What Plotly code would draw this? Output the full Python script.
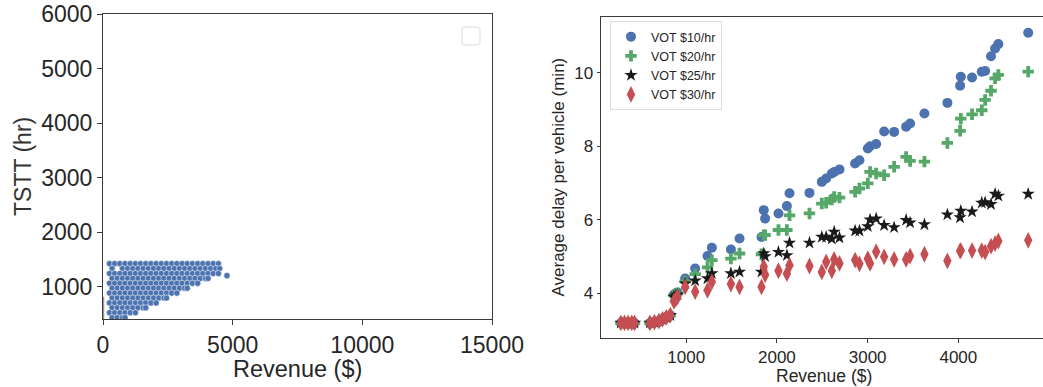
import plotly.graph_objects as go

W, H = 1043, 387

# ---------------- Left panel: TSTT vs revenue (dense cloud of runs) ----------------
CLOUD_TSTT = [1420, 1330, 1240, 1150, 1060, 970, 880, 790, 700, 610, 520, 430, 1200]
CLOUD_REVENUE = [
    [250, 450, 650, 850, 1050, 1250, 1450, 1650, 1850, 2050, 2250, 2450, 2650, 2850, 3050, 3250, 3450, 3650, 3850, 4050, 4250, 4450],
    [350, 750, 950, 1150, 1350, 1550, 1750, 1950, 2150, 2350, 2550, 2750, 2950, 3150, 3350, 3550, 3750, 3950, 4150, 4350, 4500],
    [250, 450, 650, 850, 1050, 1250, 1450, 1650, 1850, 2050, 2250, 2450, 2650, 2850, 3050, 3250, 3450, 3650, 3850, 4050, 4250, 4450],
    [350, 550, 750, 950, 1150, 1350, 1550, 1750, 1950, 2150, 2350, 2550, 2750, 2950, 3150, 3350, 3550, 3750, 3950, 4050],
    [250, 450, 650, 850, 1050, 1250, 1450, 1650, 1850, 2050, 2250, 2450, 2650, 2850, 3050, 3250, 3450, 3650],
    [350, 550, 750, 950, 1150, 1350, 1550, 1750, 1950, 2150, 2350, 2550, 2750, 2950, 3150, 3250],
    [250, 450, 650, 850, 1050, 1250, 1450, 1650, 1850, 2050, 2250, 2450, 2650, 2850],
    [350, 550, 750, 950, 1150, 1350, 1550, 1750, 1950, 2150, 2350, 2450],
    [250, 450, 650, 850, 1050, 1250, 1450, 1650, 1850, 2050],
    [350, 550, 750, 950, 1150, 1350, 1550, 1650],
    [250, 450, 650, 850, 1050, 1250],
    [350, 550, 750, 850],
    [4780],
]
LEFT_XTICKS = [0, 5000, 10000, 15000]
LEFT_XTICK_LABELS = ["0", "5000", "10000", "15000"]
LEFT_YTICKS = [1000, 2000, 3000, 4000, 5000, 6000]

# ---------------- Right panel: average delay per vehicle ----------------
REVENUE = [280, 320, 360, 400, 430,
           600, 650, 700, 740, 780, 825,
           865, 885, 905,
           989, 1099, 1235, 1283, 1493, 1588,
           1830, 1855, 1870, 2017, 2110, 2139, 2359,
           2495, 2543, 2605, 2631, 2690, 2862, 2910,
           3002, 3027, 3094, 3182, 3292, 3424, 3468, 3626,
           3879, 4019, 4027, 4151, 4258, 4295, 4360, 4405, 4441, 4770]
DELAY_VOT10 = [3.19, 3.19, 3.19, 3.19, 3.19,
               3.19, 3.21, 3.24, 3.29, 3.34, 3.40,
               3.96, 4.00, 4.02,
               4.40, 4.67, 5.01, 5.24, 5.19, 5.49,
               5.53, 6.26, 6.03, 6.17, 6.37, 6.72, 6.73,
               7.03, 7.12, 7.26, 7.30, 7.37, 7.53, 7.62,
               7.94, 8.00, 8.06, 8.40, 8.39, 8.53, 8.62, 8.89,
               9.18, 9.65, 9.89, 9.87, 10.03, 10.05, 10.45, 10.66, 10.78, 11.09]
DELAY_VOT20 = [3.19, 3.19, 3.19, 3.19, 3.19,
               3.19, 3.21, 3.24, 3.29, 3.34, 3.40,
               3.94, 3.97, 3.99,
               4.32, 4.52, 4.70, 4.90, 4.94, 5.08,
               5.06, 5.58, 5.58, 5.72, 5.72, 6.12, 6.17,
               6.44, 6.46, 6.55, 6.62, 6.60, 6.76, 6.85,
               6.99, 7.30, 7.26, 7.21, 7.44, 7.71, 7.60, 7.58,
               8.09, 8.42, 8.75, 8.87, 8.98, 9.26, 9.51, 9.85, 9.94, 10.03]
DELAY_VOT25 = [3.19, 3.19, 3.19, 3.19, 3.19,
               3.19, 3.21, 3.24, 3.29, 3.34, 3.40,
               3.90, 3.93, 3.96,
               4.26, 4.34, 4.40, 4.54, 4.54, 4.58,
               4.58, 5.08, 5.00, 5.12, 5.03, 5.37, 5.37,
               5.53, 5.53, 5.48, 5.67, 5.51, 5.70, 5.70,
               5.82, 6.00, 6.03, 5.85, 5.79, 5.99, 5.92, 5.87,
               6.14, 6.06, 6.24, 6.22, 6.46, 6.47, 6.42, 6.70, 6.65, 6.70]
DELAY_VOT30 = [3.19, 3.19, 3.19, 3.19, 3.19,
               3.19, 3.21, 3.24, 3.29, 3.34, 3.40,
               3.78, 3.84, 3.90,
               4.17, 4.04, 4.08, 4.31, 4.25, 4.17,
               4.17, 4.72, 4.50, 4.61, 4.53, 4.76, 4.74,
               4.58, 4.85, 4.61, 4.92, 4.81, 4.90, 4.80,
               4.94, 4.81, 5.13, 4.99, 4.92, 4.92, 5.01, 5.06,
               4.88, 5.15, 5.16, 5.16, 5.16, 5.12, 5.28, 5.35, 5.42, 5.44]
SERIES_NAMES = ["VOT $10/hr", "VOT $20/hr", "VOT $25/hr", "VOT $30/hr"]
RIGHT_XTICKS = [1000, 2000, 3000, 4000]
RIGHT_YTICKS = [4, 6, 8, 10]

FONT = "Liberation Sans, Arial, sans-serif"
TXT = "#262626"
AX = "#3a3a3a"

fig = go.Figure()

cx, cy = [], []
for t, revs in zip(CLOUD_TSTT, CLOUD_REVENUE):
    for r in revs:
        cx.append(r)
        cy.append(t)
fig.add_trace(go.Scatter(
    x=cx, y=cy, mode="markers", showlegend=False, xaxis="x", yaxis="y",
    marker=dict(size=6.2, color="#4c72b0", line=dict(width=0.5, color="white")),
    hoverinfo="skip"))

styles = [
    dict(symbol="circle", size=10, color="#4c72b0"),
    dict(symbol="cross", size=9.5, color="#55a868"),
    dict(symbol="star", size=10, color="#1a1a1a"),
    dict(symbol="diamond-tall", size=12, color="#c44e52"),
]
for name, vals, st in zip(SERIES_NAMES, [DELAY_VOT10, DELAY_VOT20, DELAY_VOT25, DELAY_VOT30], styles):
    fig.add_trace(go.Scatter(
        x=REVENUE, y=vals, mode="markers", name=name, xaxis="x2", yaxis="y2",
        marker=dict(symbol=st["symbol"], size=st["size"], color=st["color"], line=dict(width=0)),
    ))

def px_x(p):
    return p / W

def px_y(p):
    return 1 - p / H

common = dict(showgrid=False, zeroline=False, showline=True, linecolor=AX, linewidth=1,
              ticks="outside", tickcolor=AX, tickwidth=1, automargin=False,
              ticklabeloverflow="allow")

fig.update_layout(
    width=W, height=H, margin=dict(l=0, r=0, t=0, b=0),
    paper_bgcolor="white", plot_bgcolor="white",
    font=dict(family=FONT, color=TXT),
    xaxis=dict(domain=[px_x(103), px_x(492)], range=[0, 15000], tickvals=LEFT_XTICKS,
               ticktext=LEFT_XTICK_LABELS,
               ticklen=5, mirror=True, tickfont=dict(size=23), anchor="y", **common),
    yaxis=dict(domain=[px_y(319), px_y(14)], range=[405, 6000], tickvals=LEFT_YTICKS,
               ticktext=[str(v) for v in LEFT_YTICKS],
               ticklen=5, mirror=True, tickfont=dict(size=23), anchor="x", **common),
    xaxis2=dict(domain=[px_x(601), 1.0], range=[61, 4933], tickvals=RIGHT_XTICKS,
                ticktext=[str(v) for v in RIGHT_XTICKS],
                ticklen=3.5, mirror=True, tickfont=dict(size=17), anchor="y2", **common),
    yaxis2=dict(domain=[px_y(338), px_y(17.3)], range=[2.78, 11.51], tickvals=RIGHT_YTICKS,
                ticklen=3.5, mirror=False, tickfont=dict(size=17), anchor="x2", **common),
    legend=dict(x=px_x(610), y=px_y(21), xanchor="left", yanchor="top",
                bgcolor="rgba(255,255,255,0.85)", bordercolor="#dddddd", borderwidth=1,
                font=dict(size=12.5, color=TXT, family=FONT)),
    showlegend=True,
)

ann = [
    dict(text="Revenue ($)", x=px_x(297.5), y=px_y(369), font=dict(size=23.5)),
    dict(text="TSTT (hr)", x=px_x(23), y=px_y(167), font=dict(size=23, color="#333333"), textangle=-90),
    dict(text="Revenue ($)", x=px_x(824), y=px_y(376), font=dict(size=17.5)),
    dict(text="Average delay per vehicle (min)", x=px_x(558), y=px_y(177.5), font=dict(size=17), textangle=-90),
]
for a in ann:
    fig.add_annotation(xref="paper", yref="paper", showarrow=False, xanchor="center", yanchor="middle", **a)

# empty legend frame of the left panel (rounded square)
x0, x1, y0, y1, r = 462, 480, 27, 45, 3
path = (f"M {px_x(x0 + r)},{px_y(y0)} L {px_x(x1 - r)},{px_y(y0)} Q {px_x(x1)},{px_y(y0)} {px_x(x1)},{px_y(y0 + r)} "
        f"L {px_x(x1)},{px_y(y1 - r)} Q {px_x(x1)},{px_y(y1)} {px_x(x1 - r)},{px_y(y1)} "
        f"L {px_x(x0 + r)},{px_y(y1)} Q {px_x(x0)},{px_y(y1)} {px_x(x0)},{px_y(y1 - r)} "
        f"L {px_x(x0)},{px_y(y0 + r)} Q {px_x(x0)},{px_y(y0)} {px_x(x0 + r)},{px_y(y0)} Z")
fig.add_shape(type="path", path=path, xref="paper", yref="paper",
              line=dict(color="#dcdcdc", width=1), fillcolor="rgba(255,255,255,0.8)")

# grey segment along the left spine near the bottom
fig.add_shape(type="line", xref="x", yref="y", x0=0, x1=0, y0=405, y1=811,
              line=dict(color="#9a9a9a", width=2.5))

fig.write_html("out.html", config={"displayModeBar": False},
               post_script="document.body.style.margin='0px';")
